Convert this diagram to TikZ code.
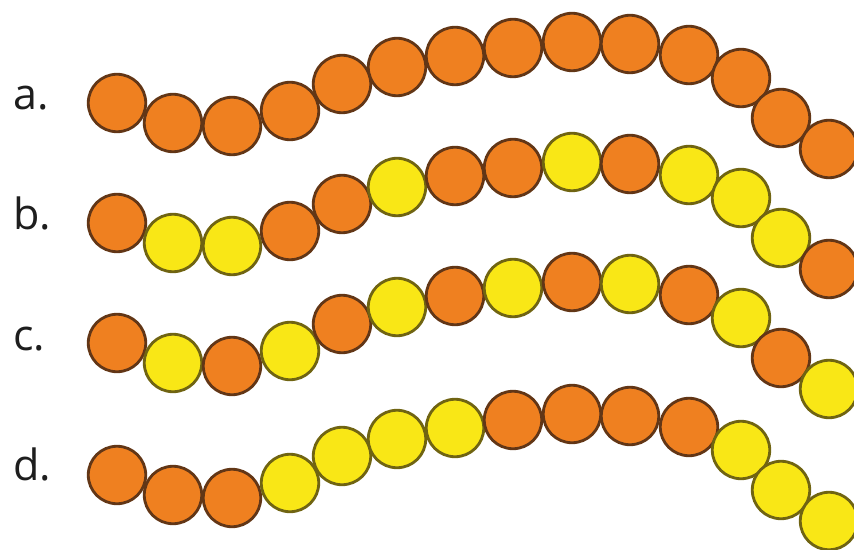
\documentclass[tikz,border=0pt]{standalone}
\usepackage{fontspec}
\setmainfont{Open Sans}
\usetikzlibrary{positioning}
\definecolor{beadorange}{RGB}{239,128,32}
\definecolor{beadyellow}{RGB}{249,231,22}
\definecolor{rimorange}{RGB}{98,54,22}
\definecolor{rimyellow}{RGB}{112,100,18}
\definecolor{labelgray}{RGB}{30,30,30}
% bead centres of one chain (row a), in pixels
\def\beadx{{117,173,232,290,342,397,455,513,572,630,689,741,781,829}}
\def\beady{{103,123,126,111,84,67,56,48,42,44,55,78,118,149}}
\newcommand{\beadrow}[3]{%
  \foreach \c [count=\i from 0] in {#3}{
    \pgfmathsetmacro{\bx}{\beadx[\i]}
    \pgfmathsetmacro{\by}{\beady[\i]+#2}
    \node[bead\c] (#1\i) at (\bx,\by) {};
  }
}
\tikzset{
  bead/.style={circle,inner sep=0pt,minimum size=1.15cm,line width=1.6pt},
  beadO/.style={bead,fill=beadorange,draw=rimorange},
  beadY/.style={bead,fill=beadyellow,draw=rimyellow},
  rowlabel/.style={anchor=base west,inner sep=0pt,text=labelgray,
    font=\fontsize{24.5}{26}\selectfont}
}

\begin{document}
\begin{tikzpicture}[x=.02cm,y=-.02cm]
    \useasboundingbox (0,0) rectangle (854,550);
    \node[rowlabel] (la) at (13,110) {a.};
    \node[rowlabel] (lb) at (13,230) {b.};
    \node[rowlabel] (lc) at (13,350) {c.};
    \node[rowlabel] (ld) at (13,480) {d.};
    \beadrow{a}{0}{O,O,O,O,O,O,O,O,O,O,O,O,O,O}
    \beadrow{b}{120}{O,Y,Y,O,O,Y,O,O,Y,O,Y,Y,Y,O}
    \beadrow{c}{240}{O,Y,O,Y,O,Y,O,Y,O,Y,O,Y,O,Y}
    \beadrow{d}{372}{O,O,O,Y,Y,Y,Y,O,O,O,O,Y,Y,Y}
  \end{tikzpicture}
\end{document}
